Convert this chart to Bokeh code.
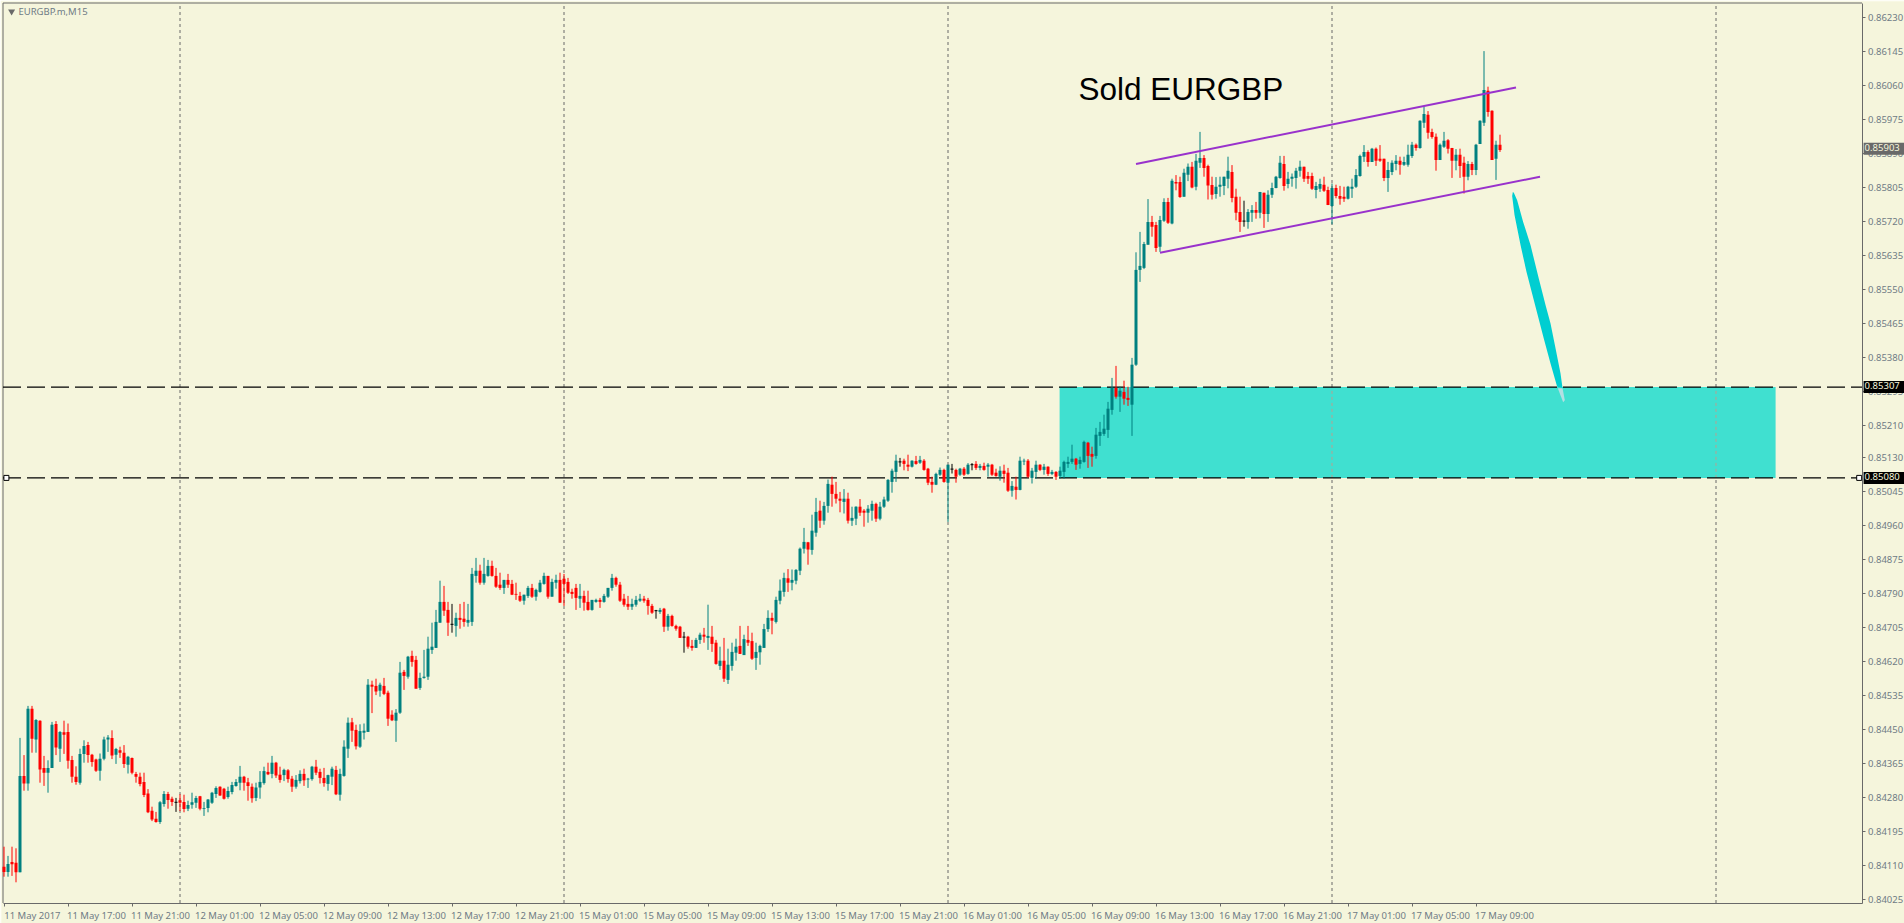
from bokeh.plotting import figure
from bokeh.models import ColumnDataSource, FixedTicker, Label, NumeralTickFormatter, Range1d
from bokeh.embed import file_html
from bokeh.resources import INLINE

# EURGBP.m M15 bars, prices in points (84158 = 0.84158)
high_pts = [
84158,84135,84158,84154,84430,84387,84510,84510,84477,84474,
84385,84374,84470,84472,84447,84473,84466,84385,84359,84403,
84424,84420,84390,84378,84391,84433,84437,84449,84405,84408,
84412,84385,84381,84345,84343,84343,84302,84258,84245,84272,
84297,84295,84283,84280,84289,84288,84273,84293,84285,84285,
84270,84277,84295,84309,84309,84305,84308,84320,84327,84360,
84335,84330,84316,84318,84347,84358,84368,84385,84370,84358,
84353,84352,84335,84337,84349,84353,84330,84360,84375,84353,
84355,84338,84358,84360,84353,84424,84481,84480,84463,84464,
84466,84577,84573,84578,84568,84580,84548,84499,84502,84620,
84600,84635,84648,84635,84593,84650,84683,84718,84750,84823,
84810,84770,84765,84743,84765,84770,84765,84855,84880,84863,
84880,84875,84873,84855,84843,84825,84840,84825,84818,84795,
84788,84810,84815,84803,84825,84843,84835,84828,84838,84843,
84840,84830,84803,84815,84815,84798,84798,84775,84778,84780,
84790,84805,84840,84833,84820,84790,84785,84778,84785,84790,
84785,84780,84765,84750,84755,84755,84740,84738,84713,84710,
84695,84685,84675,84680,84693,84705,84763,84710,84675,84658,
84680,84653,84668,84678,84710,84688,84710,84693,84668,84663,
84715,84749,84743,84783,84826,84843,84852,84851,84852,84906,
84955,84920,84988,85030,85023,85020,85076,85083,85070,85045,
85052,85043,85008,85009,85027,85002,85012,85023,85018,85020,
85033,85077,85103,85138,85130,85128,85138,85124,85135,85135,
85127,85105,85083,85093,85106,85103,85113,85115,85103,85105,
85107,85117,85117,85122,85115,85118,85117,85115,85103,85109,
85113,85105,85072,85083,85133,85128,85127,85105,85123,85114,
85115,85109,85100,85097,85108,85123,85133,85163,85130,85133,
85173,85170,85158,85205,85220,85238,85270,85330,85360,85308,
85323,85308,85380,85644,85695,85670,85777,85735,85720,85735,
85779,85780,85828,85837,85833,85853,85866,85870,85890,85945,
85887,85863,85833,85832,85833,85833,85883,85862,85803,85783,
85773,85752,85762,85770,85795,85793,85799,85818,85835,85885,
85885,85845,85841,85855,85873,85858,85845,85843,85820,85828,
85833,85808,85816,85813,85810,85808,85810,85828,85852,85888,
85912,85899,85905,85906,85912,85878,85870,85874,85887,85883,
85883,85913,85920,85916,85974,86008,85997,85953,85941,85916,
85945,85927,85905,85902,85903,85883,85872,85870,85915,85974,
86147,86058,85999,85923,85938]
low_pts = [
84083,84083,84085,84069,84094,84298,84298,84393,84393,84318,
84310,84293,84355,84387,84370,84390,84353,84318,84313,84313,
84368,84368,84358,84345,84323,84374,84395,84377,84365,84380,
84355,84341,84339,84318,84309,84282,84242,84222,84218,84215,
84258,84253,84260,84245,84247,84244,84247,84253,84255,84249,
84235,84244,84265,84280,84285,84276,84278,84289,84308,84299,
84298,84273,84268,84272,84278,84313,84337,84329,84330,84318,
84322,84318,84295,84303,84316,84310,84305,84323,84337,84316,
84308,84298,84312,84287,84273,84333,84380,84420,84401,84405,
84426,84445,84492,84537,84533,84537,84460,84472,84420,84490,
84550,84578,84608,84553,84550,84578,84575,84640,84655,84718,
84735,84685,84693,84683,84703,84708,84708,84710,84818,84813,
84813,84833,84833,84805,84800,84790,84805,84787,84775,84770,
84763,84780,84780,84773,84793,84813,84778,84783,84803,84768,
84760,84790,84778,84750,84755,84748,84748,84748,84768,84755,
84768,84780,84798,84808,84770,84758,84750,84750,84758,84770,
84768,84738,84740,84728,84740,84695,84698,84708,84698,84680,
84643,84653,84648,84655,84665,84668,84650,84645,84613,84600,
84570,84565,84598,84623,84640,84638,84660,84625,84600,84613,
84655,84695,84689,84716,84764,84783,84795,84799,84814,84837,
84891,84863,84888,84933,84955,84963,84993,85008,85016,84994,
84991,84966,84960,84962,84985,84958,84968,84973,84970,84974,
85005,85020,85043,85070,85108,85099,85097,85106,85113,85115,
85098,85062,85043,85062,85085,85068,84970,85091,85068,85085,
85085,85088,85099,85100,85099,85098,85083,85085,85083,85073,
85068,85045,85033,85026,85049,85112,85080,85066,85078,85097,
85088,85085,85087,85075,85078,85078,85105,85115,85100,85103,
85118,85105,85108,85128,85160,85185,85180,85238,85278,85245,
85263,85260,85185,85360,85570,85602,85663,85683,85645,85645,
85720,85715,85714,85799,85780,85783,85822,85804,85799,85855,
85833,85776,85776,85778,85783,85787,85804,85769,85724,85695,
85708,85703,85720,85728,85729,85705,85720,85780,85804,85828,
85798,85804,85808,85803,85833,85820,85815,85800,85779,85795,
85795,85762,85714,85779,85763,85770,85776,85780,85805,85833,
85870,85858,85870,85860,85870,85822,85795,85837,85849,85838,
85860,85858,85880,85898,85903,85955,85928,85928,85848,85875,
85905,85891,85830,85849,85830,85791,85824,85837,85837,85915,
85960,85983,85875,85825,85895]
open_pts = [
84108,84095,84120,84118,84094,84335,84316,84503,84426,84473,
84355,84343,84355,84465,84403,84444,84445,84375,84333,84318,
84390,84412,84388,84376,84348,84378,84426,84430,84388,84399,
84393,84363,84380,84340,84333,84320,84291,84248,84228,84220,
84265,84290,84278,84269,84274,84270,84253,84263,84268,84284,
84253,84255,84268,84290,84308,84303,84282,84295,84310,84318,
84333,84319,84308,84280,84306,84317,84345,84340,84368,84338,
84337,84349,84328,84308,84322,84340,84326,84327,84358,84345,
84330,84315,84333,84350,84288,84335,84403,84469,84450,84408,
84443,84445,84563,84560,84548,84560,84543,84488,84473,84493,
84595,84583,84635,84625,84555,84580,84583,84650,84655,84718,
84770,84750,84714,84710,84730,84728,84718,84720,84835,84848,
84818,84835,84860,84835,84813,84805,84825,84815,84790,84785,
84773,84785,84805,84783,84795,84815,84835,84783,84818,84825,
84828,84820,84795,84805,84778,84785,84770,84750,84770,84775,
84770,84783,84805,84830,84813,84778,84765,84758,84763,84773,
84778,84775,84760,84748,84745,84753,84708,84735,84710,84708,
84682,84683,84660,84655,84675,84688,84680,84683,84668,84610,
84623,84575,84610,84643,84660,84637,84675,84672,84630,84644,
84655,84702,84730,84720,84773,84795,84829,84818,84823,84848,
84903,84919,84900,84943,84998,84973,85010,85063,85040,85028,
85020,85028,84973,84978,85008,84998,84993,84998,85015,84978,
85008,85023,85070,85095,85120,85123,85113,85108,85122,85118,
85123,85103,85070,85063,85088,85100,85068,85102,85100,85088,
85103,85090,85113,85115,85105,85110,85108,85113,85093,85083,
85098,85093,85048,85058,85050,85121,85123,85080,85095,85113,
85100,85108,85090,85095,85085,85095,85115,85120,85128,85115,
85120,85168,85140,85135,85185,85190,85200,85250,85305,85283,
85295,85280,85263,85363,85600,85605,85663,85720,85712,85658,
85723,85770,85716,85820,85820,85783,85838,85858,85808,85868,
85880,85860,85812,85790,85808,85810,85828,85845,85783,85745,
85722,85720,85743,85750,85743,85793,85740,85788,85805,85830,
85865,85815,85828,85830,85848,85858,85835,85835,85800,85803,
85813,85800,85760,85805,85785,85783,85778,85803,85808,85835,
85883,85895,85870,85903,85878,85878,85830,85845,85865,85873,
85863,85863,85885,85913,85905,85968,85988,85945,85933,85875,
85908,85924,85905,85873,85888,85868,85833,85865,85850,85915,
85968,86048,85998,85878,85913]
close_pts = [
84095,84115,84114,84094,84335,84316,84503,84428,84475,84351,
84343,84355,84463,84406,84445,84438,84373,84333,84320,84390,
84410,84387,84370,84348,84378,84426,84431,84386,84402,84393,
84365,84383,84343,84333,84315,84287,84244,84226,84220,84269,
84290,84275,84270,84269,84268,84252,84262,84269,84280,84253,
84255,84276,84293,84305,84286,84278,84297,84312,84320,84333,
84318,84310,84279,84306,84320,84347,84339,84368,84336,84325,
84350,84327,84308,84325,84340,84324,84328,84358,84343,84330,
84317,84337,84353,84289,84340,84408,84468,84448,84409,84447,
84448,84563,84558,84546,84563,84540,84478,84474,84493,84593,
84585,84633,84620,84553,84580,84583,84653,84658,84720,84770,
84748,84718,84714,84730,84725,84720,84725,84840,84848,84818,
84840,84860,84835,84808,84805,84825,84813,84788,84788,84773,
84788,84805,84783,84800,84818,84835,84783,84820,84825,84768,
84815,84793,84790,84780,84785,84768,84750,84775,84775,84770,
84785,84805,84830,84813,84773,84763,84758,84765,84775,84778,
84773,84760,84743,84748,84750,84708,84735,84710,84703,84680,
84682,84658,84655,84675,84688,84683,84685,84665,84615,84623,
84578,84613,84645,84658,84640,84677,84668,84628,84645,84660,
84702,84730,84723,84775,84798,84830,84818,84825,84850,84903,
84920,84901,84948,84995,84973,85010,85065,85040,85028,85023,
85028,84973,84980,85008,84993,84993,85003,85015,84978,85008,
85026,85075,85098,85123,85120,85115,85108,85123,85115,85125,
85100,85068,85063,85090,85100,85070,85113,85102,85083,85103,
85088,85113,85113,85105,85110,85100,85113,85088,85085,85098,
85090,85048,85060,85050,85123,85123,85083,85098,85113,85100,
85108,85090,85095,85083,85098,85120,85120,85128,85113,85125,
85170,85135,85133,85188,85195,85203,85253,85305,85283,85298,
85278,85275,85363,85600,85610,85665,85720,85708,85655,85725,
85770,85718,85823,85816,85782,85843,85858,85806,85873,85880,
85855,85811,85788,85808,85813,85833,85848,85780,85743,85720,
85722,85745,85750,85743,85795,85740,85788,85805,85833,85868,
85810,85828,85833,85848,85858,85828,85828,85803,85810,85815,
85798,85762,85805,85785,85778,85778,85808,85808,85837,85885,
85895,85870,85903,85873,85873,85830,85850,85868,85873,85863,
85870,85888,85913,85905,85973,85990,85943,85932,85875,85913,
85923,85903,85873,85888,85860,85833,85865,85850,85913,85973,
86050,85995,85875,85913,85900]

# axis labels
price_ticks = [0.86230,0.86145,0.86060,0.85975,0.85890,0.85805,0.85720,0.85635,0.85550,
               0.85465,0.85380,0.85295,0.85210,0.85130,0.85045,0.84960,0.84875,0.84790,
               0.84705,0.84620,0.84535,0.84450,0.84365,0.84280,0.84195,0.84110,0.84025]
time_ticks = [0,16,32,48,64,80,96,112,128,144,160,176,192,208,224,240,256,272,288,304,320,336,352,368]
time_labels = ["11 May 2017","11 May 17:00","11 May 21:00","12 May 01:00","12 May 05:00","12 May 09:00",
               "12 May 13:00","12 May 17:00","12 May 21:00","15 May 01:00","15 May 05:00","15 May 09:00",
               "15 May 13:00","15 May 17:00","15 May 21:00","16 May 01:00","16 May 05:00","16 May 09:00",
               "16 May 13:00","16 May 17:00","16 May 21:00","17 May 01:00","17 May 05:00","17 May 09:00"]
day_bars = [44,140,236,332,428]

# objects drawn on the chart
level_top = 0.85307
level_bottom = 0.85080
last_price = 0.85903
zone_left, zone_right = 263.9, 442.9
upper_bars, upper_prices = [283,378], [0.85865,0.86056]
lower_bars, lower_prices = [289,384], [0.85643,0.85833]
arrow_bars = [377.21,377.04,377.63,379.13,380.63,382.88,384.96,386.63,388.29,389.63,
              389.13,387.88,386.63,385.38,383.71,381.63,379.79,378.29,377.46]
arrow_prices = [0.85795,0.85785,0.85737,0.85662,0.85595,0.85508,0.85428,0.85366,0.85308,0.85305,
                0.85341,0.85404,0.85466,0.85512,0.85578,0.85662,0.85720,0.85774,0.85793]
tip_bars = [388.46,389.63,390.21,389.79]
tip_prices = [0.85304,0.85304,0.85274,0.85269]

# the frame fills the canvas so the price tags are not clipped; the axes sit inside it
frame_left, frame_right = -0.625, 475.125
frame_bottom, frame_top = 0.83966, 0.86271
chart_left, chart_right = -0.25, 464.5
chart_bottom, chart_top = 0.8401725, 0.8626725

BG = "#F5F5DC"
TEAL = "#008080"
RED = "#FF0000"
GREY = "#696969"
TEXT = "#6F7B85"
FONT = "Noto Sans"

bars = list(range(len(close_pts)))
colors = [TEAL if c > o else RED if c < o else "black" for o, c in zip(open_pts, close_pts)]
source = ColumnDataSource(dict(
    bar=bars,
    high=[v/100000 for v in high_pts],
    low=[v/100000 for v in low_pts],
    open=[v/100000 for v in open_pts],
    close=[v/100000 for v in close_pts],
    color=colors))
doji_bars = [b for b in bars if open_pts[b] == close_pts[b]]

p = figure(width=1904, height=923, output_backend="svg", toolbar_location=None,
           x_range=Range1d(frame_left, frame_right), y_range=Range1d(frame_bottom, frame_top),
           y_axis_location="right", min_border_left=1, min_border_top=1,
           min_border_right=0, min_border_bottom=0,
           styles={"position": "absolute", "left": "0px", "top": "0px"})
p.background_fill_color = BG
p.border_fill_color = BG
p.outline_line_color = None
p.grid.visible = False

p.yaxis.fixed_location = chart_right
p.yaxis.bounds = (chart_bottom, chart_top)
p.xaxis.fixed_location = chart_bottom
p.xaxis.bounds = (chart_left, chart_right)
p.yaxis.ticker = FixedTicker(ticks=price_ticks)
p.yaxis.formatter = NumeralTickFormatter(format="0.00000")
# labels start at their tick, so the major ticks carry the text half a label further on
label_ticks = [t + 7.1 for t in time_ticks]
p.xaxis.ticker = FixedTicker(ticks=label_ticks, minor_ticks=time_ticks)
p.xaxis.major_label_overrides = dict(zip(label_ticks, time_labels))
p.xaxis.major_tick_line_color = None
p.xaxis.minor_tick_line_color = GREY
p.xaxis.minor_tick_in = 0
p.xaxis.minor_tick_out = 3
p.xaxis.major_tick_in = 0
p.xaxis.major_tick_out = 0
p.xaxis.major_label_standoff = 3
p.yaxis.major_tick_line_color = GREY
p.yaxis.major_tick_in = 0
p.yaxis.major_tick_out = 3
p.yaxis.minor_tick_line_color = None
p.yaxis.major_label_standoff = 3
for ax in [p.xaxis, p.yaxis]:
    ax.axis_line_color = GREY
    ax.major_label_text_color = TEXT
    ax.major_label_text_font = FONT
    ax.major_label_text_font_size = "9.5px"

# left and top edge of the chart
p.segment([chart_left, chart_left], [chart_bottom, chart_top], [chart_left, chart_right], [chart_top, chart_top],
          line_color=GREY, line_width=1)

# day separators, with the faint part that shows through the zone
p.segment(day_bars, chart_bottom, day_bars, chart_top, line_color=GREY, line_dash="3 3", line_width=1)
p.quad(left=zone_left, right=zone_right, bottom=level_bottom, top=level_top,
       fill_color="#40E0D0", line_color=None)
p.segment(day_bars[3:], level_bottom, day_bars[3:], level_top, line_color="#B9A08F", line_dash="3 3", line_width=1)
for lvl in [level_top, level_bottom]:
    p.segment(chart_left, lvl, chart_right, lvl, line_color="black", line_dash="18 6", line_width=1.2)

# candles
p.segment("bar", "low", "bar", "high", source=source, line_color="color", line_width=1)
p.vbar(x="bar", width=0.75, top="open", bottom="close", source=source, fill_color="color", line_color=None)
p.segment([b-0.375 for b in doji_bars], [close_pts[b]/100000 for b in doji_bars],
          [b+0.375 for b in doji_bars], [close_pts[b]/100000 for b in doji_bars],
          line_color="black", line_width=1)

# channel and arrow
p.line(upper_bars, upper_prices, line_color="#9932CC", line_width=2)
p.line(lower_bars, lower_prices, line_color="#9932CC", line_width=2)
p.patch(arrow_bars, arrow_prices, fill_color="#00CED1", line_color=None)
p.patch(tip_bars, tip_prices, fill_color="#B4DFE2", line_color=None)

# anchors of the lower level
p.scatter([0.6, chart_right-0.7], [level_bottom, level_bottom], marker="square", size=5,
          fill_color="white", line_color="black", line_width=1)

# chart name
p.scatter([1.9], [0.86246], marker="inverted_triangle", size=7, fill_color=GREY, line_color=None)
p.add_layout(Label(x=3.6, y=0.86245, text="EURGBP.m,M15", text_font=FONT, text_font_size="9.5px",
                   text_color=TEXT, text_baseline="middle"))

p.add_layout(Label(x=268.6, y=0.86052, text="Sold EURGBP", text_font="Liberation Sans",
                   text_font_size="31.5px", text_color="black", text_baseline="alphabetic"))

# price tags over the axis
for price, tag, fill in [(last_price, "0.85903", GREY), (level_top, "0.85307", "black"), (level_bottom, "0.85080", "black")]:
    p.add_layout(Label(x=464.9, y=price, text=tag, text_font=FONT, text_font_size="9.5px",
                       text_color=BG, text_baseline="middle", background_fill_color=fill,
                       padding=(1, 6, 1, 4)))

open("out.html", "w").write(file_html(p, INLINE))
